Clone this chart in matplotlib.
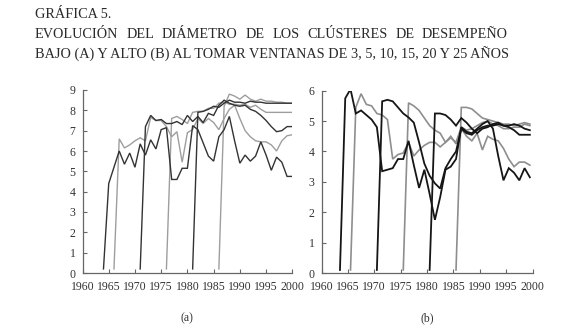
import numpy as np
import matplotlib
matplotlib.use("Agg")
import matplotlib.pyplot as plt

# ---------------- data ----------------
title_line1 = "GRÁFICA 5."
title_line2 = "EVOLUCIÓN DEL DIÁMETRO DE LOS CLÚSTERES DE DESEMPEÑO"
title_line3 = "BAJO (A) Y ALTO (B) AL TOMAR VENTANAS DE 3, 5, 10, 15, 20 Y 25 AÑOS"
panel_labels = ["(a)", "(b)"]
x_ticks = [1960, 1965, 1970, 1975, 1980, 1985, 1990, 1995, 2000]
a_yticks = [0, 1, 2, 3, 4, 5, 6, 7, 8, 9]
b_yticks = [0, 1, 2, 3, 4, 5, 6]

# panel (a): bajo desempeño; first year of each window series
a_start = {3: 1964, 5: 1966, 10: 1971, 15: 1976, 20: 1981, 25: 1986}
a_w3 = [0.2, 4.4, 5.2, 6.0, 5.35, 5.9, 5.2, 6.35, 5.8, 6.55, 6.1, 7.05, 7.15,
        4.6, 4.6, 5.15, 5.15, 7.25, 7.05, 6.4, 5.75, 5.5, 6.7, 7.05, 7.7,
        6.5, 5.4, 5.8, 5.5, 5.75, 6.45, 5.8, 5.05, 5.7, 5.45, 4.75, 4.75]
a_w5 = [0.2, 6.6, 6.15, 6.3, 6.5, 6.65, 6.5, 7.65, 7.5, 7.5, 7.2, 6.7, 6.95,
        5.45, 6.9, 7.05, 7.6, 7.35, 7.6, 7.4, 7.05, 7.6, 8.05, 8.25, 7.6,
        7.0, 6.7, 6.5, 6.45, 6.45, 6.3, 6.0, 6.5, 6.75, 6.8]
a_w10 = [0.2, 7.2, 7.75, 7.5, 7.55, 7.35, 7.35, 7.45, 7.3, 7.75, 7.45, 7.7,
         7.4, 7.85, 7.75, 8.25, 8.5, 8.35, 8.25, 8.2, 8.25, 8.05, 7.95, 7.75,
         7.5, 7.2, 6.95, 7.0, 7.2, 7.2]
a_w15 = [0.2, 7.6, 7.7, 7.55, 7.35, 7.9, 7.95, 7.95, 8.1, 8.1, 8.35, 8.4, 8.3,
         8.3, 8.25, 8.3, 8.15, 8.25, 8.05, 7.9, 7.9, 7.9, 7.9, 7.9, 7.9]
a_w20 = [0.2, 7.9, 7.95, 8.05, 8.2, 8.15, 8.35, 8.5, 8.4, 8.4, 8.35, 8.45,
         8.4, 8.4, 8.35, 8.35, 8.35, 8.35, 8.35, 8.35]
a_w25 = [0.2, 8.2, 8.8, 8.7, 8.55, 8.75, 8.55, 8.45, 8.55, 8.45, 8.45, 8.4,
         8.4, 8.35, 8.35]

# panel (b): alto desempeño; first (mid-)year of each window series
b_start = {3: 1963.5, 5: 1965.5, 10: 1970.5, 15: 1975.5, 20: 1980.5, 25: 1985.5}
b_w3 = [0.1, 5.75, 6.05, 5.25, 5.35, 5.2, 5.05, 4.8, 3.35, 3.4, 3.45, 3.75,
        3.75, 4.35, 3.55, 2.8, 3.4, 2.6, 1.75, 2.5, 3.4, 3.5, 3.75, 4.8, 4.65,
        4.6, 4.75, 4.9, 5.0, 4.75, 3.85, 3.05, 3.45, 3.3, 3.05, 3.45, 3.15]
b_w5 = [0.1, 5.45, 5.9, 5.55, 5.5, 5.25, 5.2, 5.05, 3.75, 3.9, 3.95, 4.3, 3.85,
        4.05, 4.2, 4.3, 4.3, 4.15, 4.3, 4.5, 4.25, 4.75, 4.5, 4.35, 4.6, 4.05,
        4.5, 4.4, 4.35, 4.1, 3.75, 3.5, 3.65, 3.65, 3.55]
b_w10 = [0.1, 5.65, 5.7, 5.65, 5.45, 5.25, 5.12, 4.95, 4.3, 3.6, 3.2, 2.95,
         2.78, 3.45, 3.75, 4.0, 4.75, 4.6, 4.55, 4.7, 4.8, 4.85, 4.85, 4.9,
         4.85, 4.8, 4.7, 4.55, 4.55, 4.55]
b_w15 = [0.1, 5.6, 5.5, 5.35, 5.1, 4.85, 4.7, 4.6, 4.3, 4.45, 4.3, 4.8, 4.7,
         4.75, 4.85, 4.95, 5.0, 4.9, 4.85, 4.75, 4.75, 4.8, 4.8, 4.9, 4.85]
b_w20 = [0.1, 5.25, 5.25, 5.2, 5.05, 4.85, 5.1, 4.95, 4.75, 4.6, 4.75, 4.8,
         4.9, 4.95, 4.85, 4.85, 4.9, 4.85, 4.75, 4.7]
b_w25 = [0.1, 5.45, 5.45, 5.4, 5.25, 5.1, 5.05, 5.0, 4.95, 4.9, 4.9, 4.85,
         4.9, 4.95, 4.9]

a_series = {3: a_w3, 5: a_w5, 10: a_w10, 15: a_w15, 20: a_w20, 25: a_w25}
b_series = {3: b_w3, 5: b_w5, 10: b_w10, 15: b_w15, 20: b_w20, 25: b_w25}

# ---------------- style ----------------
serif = ["Liberation Serif", "DejaVu Serif"]
plt.rcParams["font.family"] = serif
W, H = 575, 329
fig = plt.figure(figsize=(W / 100, H / 100), dpi=100)

def fx(px):
    return px / W

def fy(py):
    return 1 - py / H

panels = [
    dict(rect=[fx(82.5), fy(273), fx(292.3 - 82.5), (273 - 90) / H],
         series=a_series, start=a_start, ylim=(0, 9), yt=a_yticks,
         dark="#333333", gray="#9e9e9e", dlw=1.0, glw=1.0, label_x=187),
    dict(rect=[fx(321.5), fy(273), fx(532.5 - 321.5), (273 - 90.7) / H],
         series=b_series, start=b_start, ylim=(0, 6), yt=b_yticks,
         dark="#151515", gray="#8e8e8e", dlw=1.3, glw=1.2, label_x=427),
]

for i, p in enumerate(panels):
    ax = fig.add_axes(p["rect"])
    for k, w in enumerate([3, 5, 10, 15, 20, 25]):
        vals = p["series"][w]
        xs = p["start"][w] + np.arange(len(vals))
        dark = (k % 2 == 0)
        ax.plot(xs, vals, color=p["dark"] if dark else p["gray"],
                lw=p["dlw"] if dark else p["glw"], solid_joinstyle="miter",
                zorder=3 if dark else 2)
    ax.set_xlim(1960, 2000)
    ax.set_ylim(*p["ylim"])
    ax.set_xticks(x_ticks)
    ax.set_yticks(p["yt"])
    for s in ["top", "right"]:
        ax.spines[s].set_visible(False)
    for s in ["left", "bottom"]:
        ax.spines[s].set_color("#666666")
        ax.spines[s].set_linewidth(0.9)
    ax.tick_params(axis="both", direction="in", length=3, width=0.8,
                   color="#666666", labelsize=8.5, labelcolor="#333333")
    ax.tick_params(axis="x", pad=6)
    ax.tick_params(axis="y", pad=5)
    ax.patch.set_alpha(0)
    fig.text(fx(p["label_x"]), fy(318), panel_labels[i], ha="center",
             va="center", fontsize=8.5, color="#333333")

# ---------------- title (justified lines) ----------------
tcolor = "#2a2a2a"
x_left, x_right = 35, 508
base = [18.5, 38.5, 58.5]
renderer = fig.canvas.get_renderer()

t3 = fig.text(fx(x_left), fy(base[2]), title_line3, fontsize=11,
              va="baseline", ha="left", color=tcolor)
w3 = t3.get_window_extent(renderer).width
fs = 11 * (x_right - x_left) / w3
t3.set_fontsize(fs)

fig.text(fx(x_left), fy(base[0]), title_line1, fontsize=fs, va="baseline",
         ha="left", color=tcolor)

words = title_line2.split(" ")
widths = []
tmp = []
for wd in words:
    t = fig.text(0, 0, wd, fontsize=fs, va="baseline", ha="left")
    widths.append(t.get_window_extent(renderer).width)
    tmp.append(t)
for t in tmp:
    t.remove()
gap = ((x_right - x_left) - sum(widths)) / (len(words) - 1)
cx = x_left
for wd, wdt in zip(words, widths):
    fig.text(fx(cx), fy(base[1]), wd, fontsize=fs, va="baseline", ha="left",
             color=tcolor)
    cx += wdt + gap

fig.savefig("out.png", dpi=100)
